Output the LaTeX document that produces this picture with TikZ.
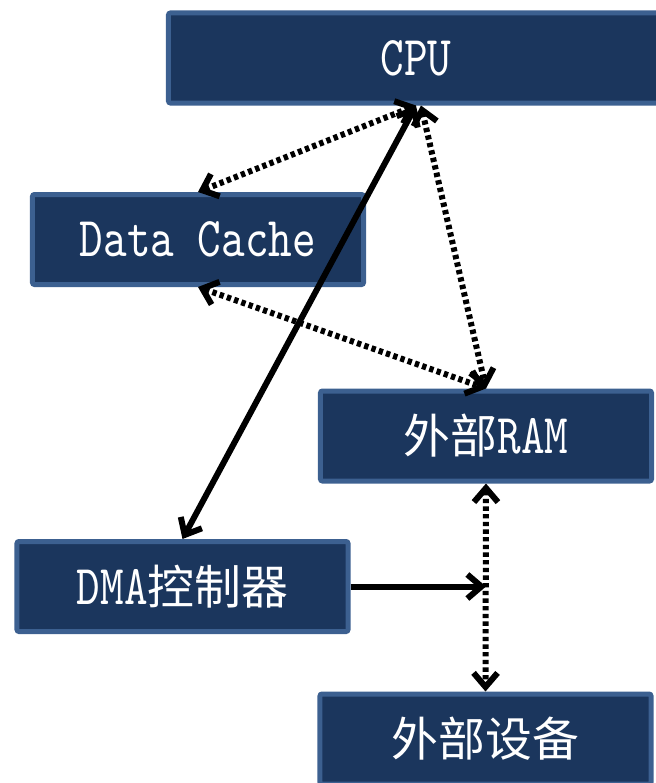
\documentclass[tikz,border=0pt]{standalone}
\usepackage{fontspec}
\usetikzlibrary{arrows.meta}
\newfontfamily\latinfont{lmmono10-regular}[Extension=.otf, FakeStretch=0.8]
\newfontfamily\cjkfont{Noto Sans CJK SC}
\newcommand{\zh}[1]{{\cjkfont\fontsize{40}{40}\selectfont #1}}
\definecolor{boxfill}{HTML}{1B365D}
\definecolor{boxline}{HTML}{3C6090}
\tikzset{
  unit/.style={draw=boxline, fill=boxfill, line width=0.15cm, rounded corners=0.06cm,
    minimum width=9.93cm, minimum height=2.7cm, inner sep=0pt, text=white,
    font=\latinfont\fontsize{48}{48}\selectfont},
  link/.style={line width=0.18cm},
  bus/.style={link, dash pattern=on 0.13cm off 0.1cm}
}
\begin{document}
\begin{tikzpicture}[x=0.03cm, y=-0.03cm, >={Straight Barb[length=0.42cm,width=0.72cm]}]
    \useasboundingbox (0,0) rectangle (656,783);
    \clip (0,0) rectangle (656,783);

    % blocks
    \node[unit, minimum width=14.85cm] (cpu) at (416,58) {CPU};
    \node[unit] (cache) at (198,239.5) {Data Cache};
    \node[unit] (ram) at (486,436) {\zh{外部}RAM};
    \node[unit] (dma) at (182.5,586.5) {DMA\zh{控制器}};
    \node[unit] (dev) at (485.5,739) {\zh{外部设备}};

    % point where the DMA line meets the bus
    \coordinate (tap) at (ram.south |- dma.east);

    % connections
    \draw[bus, <->] (cpu.south) -- (cache.north);
    \draw[bus, <->] (cache.south) -- (ram.north);
    \draw[bus, <->] ([xshift=0.15cm]cpu.south) -- (ram.north);
    \draw[link, <->] (cpu.south) -- (dma.north);
    \draw[link, ->] (dma.east) -- (tap);
    \draw[bus, <->] (ram.south) -- (dev.north);
  \end{tikzpicture}
\end{document}
